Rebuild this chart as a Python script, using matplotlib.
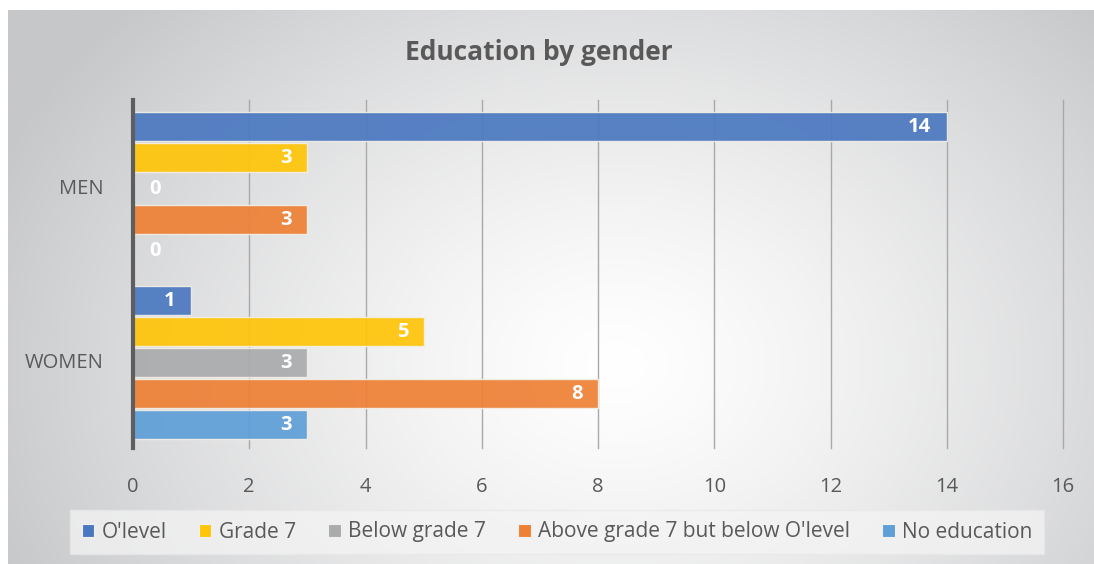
import numpy as np
import matplotlib
matplotlib.use("Agg")
import matplotlib.pyplot as plt
from matplotlib.patches import Patch

# Data
groups = ["MEN", "WOMEN"]
series_names = ["O'level", "Grade 7", "Below grade 7",
                "Above grade 7 but below O'level", "No education"]
olevel = [14, 1]
grade7 = [3, 5]
below_grade7 = [0, 3]
above_grade7 = [3, 8]
no_education = [0, 3]
series_values = [olevel, grade7, below_grade7, above_grade7, no_education]
colors = ["#4a78c0", "#ffc508", "#aaabad", "#ee8035", "#5e9fd8"]
x_ticks = [0, 2, 4, 6, 8, 10, 12, 14, 16]

W, H = 1094, 564
fig = plt.figure(figsize=(W / 100, H / 100), dpi=100)
fig.patch.set_facecolor("white")

# Radial gradient backdrop
bg = fig.add_axes([8 / W, 0, (W - 8) / W, (H - 10) / H], zorder=-10)
nx, ny = 600, 320
xx, yy = np.meshgrid(np.linspace(0, 1, nx), np.linspace(0, 1, ny))
cx, cy = 0.56, 0.64
d = np.sqrt(((xx - cx) / 0.62) ** 2 + ((yy - cy) / 0.95) ** 2)
t = np.clip(d, 0, 1) ** 1.3
c_in = np.array([1.0, 1.0, 1.0])
c_out = np.array([0xc6, 0xc7, 0xc9]) / 255
img = c_in[None, None, :] * (1 - t[..., None]) + c_out[None, None, :] * t[..., None]
bg.imshow(img, aspect="auto", extent=[0, 1, 0, 1], origin="upper")
bg.set_axis_off()

# Main axes
ax_left, ax_right = 133, 1063
ax_top, ax_bot = 100, 448
ax = fig.add_axes([ax_left / W, 1 - ax_bot / H, (ax_right - ax_left) / W,
                   (ax_bot - ax_top) / H])
ax.patch.set_alpha(0)

FONT = "Open Sans"
bar_h = 0.178
y_base = np.arange(len(groups))
for i, (name, vals, col) in enumerate(zip(series_names, series_values, colors)):
    ypos = y_base + (i - 2) * bar_h + 0.01
    ax.barh(ypos, vals, height=bar_h * 0.94, color=col, alpha=0.92,
            edgecolor="#f3efe6", linewidth=1.0, zorder=3, label=name)
    for yv, v in zip(ypos, vals):
        if v > 0:
            ax.annotate(str(v), xy=(v, yv), xytext=(-11, 0),
                        textcoords="offset points", ha="right", va="center",
                        color="white", fontsize=14.5, fontweight="bold",
                        family=FONT, zorder=5)
        else:
            ax.annotate(str(v), xy=(0, yv), xytext=(12, 0),
                        textcoords="offset points", ha="left", va="center",
                        color="white", fontsize=14.5, fontweight="bold",
                        family=FONT, zorder=5)

ax.set_xlim(0, 16)
ax.set_ylim(1.5, -0.5)
ax.set_xticks(x_ticks)
ax.set_xticklabels([str(v) for v in x_ticks])
ax.set_yticks(y_base)
ax.set_yticklabels(groups)
ax.grid(axis="x", color="#a9a9a9", linewidth=1.0, zorder=1)
for gl in ax.get_xgridlines():
    gl.set_clip_on(False)
ax.set_axisbelow(True)
for s in ["top", "right", "bottom"]:
    ax.spines[s].set_visible(False)
ax.spines["left"].set_color("#5e5e5e")
ax.spines["left"].set_linewidth(3)
ax.spines["left"].set_zorder(4)
ax.tick_params(axis="both", length=0, colors="#595959", labelsize=14.5)
ax.tick_params(axis="x", pad=21)
ax.tick_params(axis="y", pad=21)
for lbl in ax.get_xticklabels() + ax.get_yticklabels():
    lbl.set_family(FONT)

fig.text(539 / W, 1 - 52 / H, "Education by gender", ha="center", va="center",
         fontsize=19, fontweight="bold", color="#595959", family=FONT)

handles = [Patch(facecolor=c, edgecolor="#f0f0f0", linewidth=0.8) for c in colors]
leg = fig.legend(handles, series_names, loc="center",
                 bbox_to_anchor=(557 / W, 1 - 532 / H), ncol=5,
                 frameon=True, handlelength=0.6,
                 handleheight=0.6, handletextpad=0.35, columnspacing=1.55,
                 borderpad=0.55, fancybox=False,
                 prop={"family": FONT, "size": 15})
leg.get_frame().set_facecolor("#f4f4f4")
leg.get_frame().set_alpha(0.75)
leg.get_frame().set_edgecolor("#e8e8e8")
for txt in leg.get_texts():
    txt.set_color("#595959")

fig.savefig("out.png", dpi=100)
